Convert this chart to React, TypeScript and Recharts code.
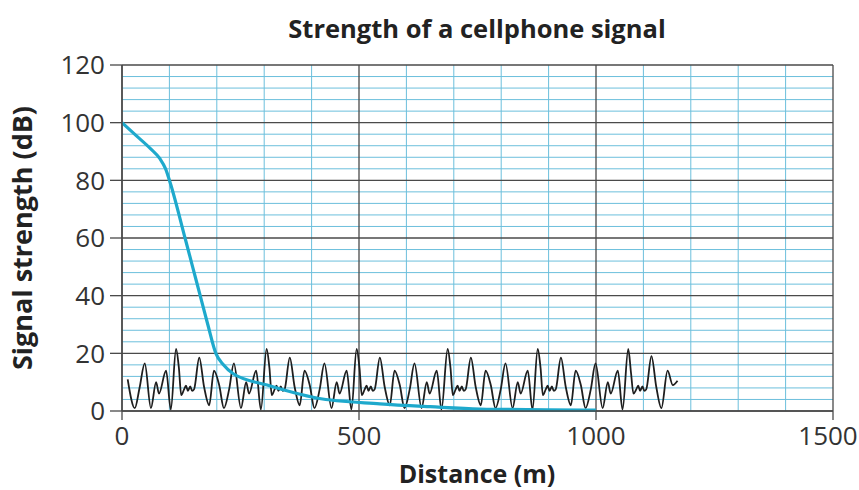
import { LineChart, Line, XAxis, YAxis, ReferenceLine } from "recharts"

// decay of the signal with distance (m, dB)
const signal = [
  { x: 0, y: 100 },
  { x: 30, y: 95.5 },
  { x: 60, y: 91 },
  { x: 80, y: 87.5 },
  { x: 92, y: 84 },
  { x: 102, y: 79 },
  { x: 133, y: 60 },
  { x: 149, y: 50 },
  { x: 165, y: 40 },
  { x: 181, y: 30 },
  { x: 198, y: 20 },
  { x: 214, y: 16 },
  { x: 234, y: 13 },
  { x: 306, y: 9 },
  { x: 411, y: 4.5 },
  { x: 544, y: 2.5 },
  { x: 650, y: 1.5 },
  { x: 755, y: 0.7 },
  { x: 1000, y: 0.3 },
]

// background noise trace (m, dB)
const noise = [
  [12, 11], [27, 1], [37, 8], [48, 16.5], [61, 1], [72, 10], [78, 6], [93, 14], [103, 0.5],
  [114, 21.5], [120, 15], [125, 5.5], [131, 7.5], [135, 8.8], [139, 7], [144, 8.5], [148, 7], [152, 7.5],
  [163, 18.5], [173, 8.5], [184, 2], [194, 14], [205, 9], [215, 1], [226, 7.5], [236, 16.5], [251, 1],
  [262, 10], [268, 6], [283, 14], [293, 0.5],
  [305, 21.5], [311, 15], [316, 5.5], [322, 7.5], [326, 8.8], [330, 7], [335, 8.5], [339, 7], [343, 7.5],
  [354, 18.5], [364, 8.5], [375, 2], [385, 14], [396, 9], [406, 1], [417, 7.5], [427, 16.5], [442, 1],
  [453, 10], [459, 6], [474, 14], [484, 0.5],
  [495, 21.5], [501, 15], [506, 5.5], [512, 7.5], [516, 8.8], [520, 7], [525, 8.5], [529, 7], [533, 7.5],
  [544, 18.5], [554, 8.5], [565, 2], [575, 14], [586, 9], [596, 1], [607, 7.5], [617, 16.5], [632, 1],
  [643, 10], [649, 6], [664, 14], [674, 0.5],
  [687, 21.5], [693, 15], [698, 5.5], [704, 7.5], [708, 8.8], [712, 7], [717, 8.5], [721, 7], [725, 7.5],
  [736, 18.5], [746, 8.5], [757, 2], [767, 14], [778, 9], [788, 1], [799, 7.5], [809, 16.5], [824, 1],
  [835, 10], [841, 6], [856, 14], [866, 0.5],
  [877, 21.5], [883, 15], [888, 5.5], [894, 7.5], [898, 8.8], [902, 7], [907, 8.5], [911, 7], [915, 7.5],
  [926, 18.5], [936, 8.5], [947, 2], [957, 14], [968, 9], [978, 1], [989, 7.5], [999, 16.5], [1014, 1],
  [1025, 10], [1031, 6], [1046, 14], [1056, 0.5],
  [1068, 21.5], [1074, 13], [1079, 6], [1085, 7.5], [1089, 8.8], [1093, 7], [1098, 8.5], [1102, 7], [1106, 7.5],
  [1117, 19], [1127, 8.5], [1138, 1], [1151, 14], [1162, 9], [1172, 10.5],
].map(([x, y]) => ({ x, y }))

const xTicks = [0, 500, 1000, 1500]
const yTicks = [0, 20, 40, 60, 80, 100, 120]
const xMinor = [100, 200, 300, 400, 600, 700, 800, 900, 1100, 1200, 1300, 1400]
const yMinor = [4, 8, 12, 16, 24, 28, 32, 36, 44, 48, 52, 56, 64, 68, 72, 76, 84, 88, 92, 96, 104, 108, 112, 116]

const FONT = "'Open Sans', 'DejaVu Sans', sans-serif"
const DARK = "#4a4a4a"
const MINOR = "#6cbfdc"

// x tick label; the last one is nudged left so it stays inside the frame
function XTick(props: any) {
  const { x, y, payload } = props
  const shift = payload.value === 1500 ? -5 : 0
  return (
    <text x={x + shift} y={y} dy="0.71em" textAnchor="middle" fill="#333" fontSize={26} fontFamily={FONT}>
      {payload.value}
    </text>
  )
}

export default function App() {
  return (
    <div style={{ position: "relative", width: 859, height: 490, fontFamily: FONT, background: "#fff" }}>
      <style>{"body{margin:0;overflow:hidden}"}</style>
      <LineChart width={859} height={490} margin={{ top: 65, right: 26, bottom: 19, left: 52 }}>
        {xMinor.map((v) => (
          <ReferenceLine key={"xm" + v} x={v} stroke={MINOR} strokeWidth={1} />
        ))}
        {yMinor.map((v) => (
          <ReferenceLine key={"ym" + v} y={v} stroke={MINOR} strokeWidth={1} />
        ))}
        {xTicks.map((v) => (
          <ReferenceLine key={"xM" + v} x={v} stroke={DARK} strokeWidth={1.3} />
        ))}
        {yTicks.map((v) => (
          <ReferenceLine key={"yM" + v} y={v} stroke={DARK} strokeWidth={1.3} />
        ))}
        <XAxis
          type="number"
          dataKey="x"
          domain={[0, 1500]}
          ticks={xTicks}
          height={60}
          tickSize={9}
          tickMargin={7}
          stroke={DARK}
          tick={<XTick />}
          axisLine={{ stroke: DARK, strokeWidth: 1.5 }}
          tickLine={{ stroke: DARK, strokeWidth: 1.3 }}
          allowDataOverflow
        />
        <YAxis
          type="number"
          dataKey="y"
          domain={[0, 120]}
          ticks={yTicks}
          width={70}
          tickSize={12}
          tickMargin={5}
          stroke={DARK}
          tick={{ fill: "#333", fontSize: 26, fontFamily: FONT }}
          axisLine={{ stroke: DARK, strokeWidth: 1.5 }}
          tickLine={{ stroke: DARK, strokeWidth: 1.3 }}
        />
        <Line
          data={noise}
          dataKey="y"
          type="monotone"
          stroke="#1e1e1e"
          strokeWidth={1.8}
          dot={false}
          isAnimationActive={false}
        />
        <Line
          data={signal}
          dataKey="y"
          type="monotone"
          stroke="#1ea9cc"
          strokeWidth={3.2}
          dot={false}
          isAnimationActive={false}
        />
      </LineChart>
      <div
        style={{
          position: "absolute", left: 177, top: 13, width: 600, textAlign: "center",
          fontSize: 25.5, fontWeight: 700, color: "#222", lineHeight: "30px",
        }}
      >
        Strength of a cellphone signal
      </div>
      <div
        style={{
          position: "absolute", left: 22 - 200, top: 238 - 15, width: 400, height: 30,
          lineHeight: "30px", textAlign: "center", transform: "rotate(-90deg)",
          fontSize: 27, fontWeight: 700, color: "#222",
        }}
      >
        Signal strength (dB)
      </div>
      <div
        style={{
          position: "absolute", left: 277, top: 460, width: 400, height: 27,
          lineHeight: "27px", textAlign: "center", fontSize: 25, fontWeight: 700, color: "#222",
        }}
      >
        Distance (m)
      </div>
    </div>
  )
}
